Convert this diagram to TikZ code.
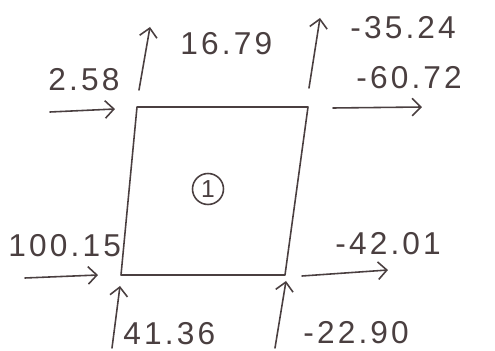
\documentclass[tikz,border=0pt]{standalone}
\usepackage{fontspec}
\setmainfont{Liberation Sans}
\newfontfamily\hand[LetterSpace=10]{Liberation Sans}
\usepackage{xcolor}
\definecolor{pencil}{HTML}{4A3F40}
\usetikzlibrary{arrows.meta}
\tikzset{
  stroke/.style={pencil, line width=0.9pt, line cap=round, line join=round},
  flux/.style={stroke, ->},
  val/.style={text=pencil, font=\hand\fontsize{18}{20}\selectfont, inner sep=0pt},
}

\begin{document}
\begin{tikzpicture}[x=0.02cm, y=-0.02cm, >={Straight Barb[length=5pt,width=10pt]}]
  \useasboundingbox (0,0) rectangle (495,351);
  % ---- cell ----
  \coordinate (tl) at (137,107);
  \coordinate (tr) at (308,107);
  \coordinate (br) at (285,275);
  \coordinate (bl) at (121,275);
  \draw[stroke] (tl) -- (tr) -- (br) -- (bl) -- cycle;
  \node[circle, draw=pencil, line width=0.9pt, minimum size=0.62cm, inner sep=0pt,
        text=pencil, font=\fontsize{14}{14}\selectfont] (cell) at (208,189) {1};
  % ---- top side ----
  \coordinate (tlUp0) at (139,90);   \coordinate (tlUp1) at (150,27);
  \coordinate (tlIn0) at (50,112);   \coordinate (tlIn1) at (115,109);
  \coordinate (trUp0) at (309,88);   \coordinate (trUp1) at (320,18);
  \coordinate (trOut0) at (333,108); \coordinate (trOut1) at (422,107);
  \draw[flux] (tlUp0) -- (tlUp1);
  \draw[flux] (tlIn0) -- (tlIn1);
  \draw[flux] (trUp0) -- (trUp1);
  \draw[flux] (trOut0) -- (trOut1);
  \node[val, anchor=west] (vTlUp) at (180,44) {16.79};
  \node[val, anchor=west] (vTlIn) at (48,80) {2.58};
  \node[val, anchor=west] (vTrUp) at (350,28) {-35.24};
  \node[val, anchor=west] (vTrOut) at (356,78) {-60.72};
  % ---- bottom side ----
  \coordinate (blIn0) at (25,278);   \coordinate (blIn1) at (98,275);
  \coordinate (blUp0) at (112,348);  \coordinate (blUp1) at (120,286);
  \coordinate (brUp0) at (275,348);  \coordinate (brUp1) at (286,281);
  \coordinate (brOut0) at (302,276); \coordinate (brOut1) at (388,270);
  \draw[flux] (blIn0) -- (blIn1);
  \draw[flux] (blUp0) -- (blUp1);
  \draw[flux] (brUp0) -- (brUp1);
  \draw[flux] (brOut0) -- (brOut1);
  \node[val, anchor=west] (vBlIn) at (8,246) {100.15};
  \node[val, anchor=west] (vBlUp) at (123,334) {41.36};
  \node[val, anchor=west] (vBrUp) at (303,333) {-22.90};
  \node[val, anchor=west] (vBrOut) at (335,244) {-42.01};
\end{tikzpicture}
\end{document}
